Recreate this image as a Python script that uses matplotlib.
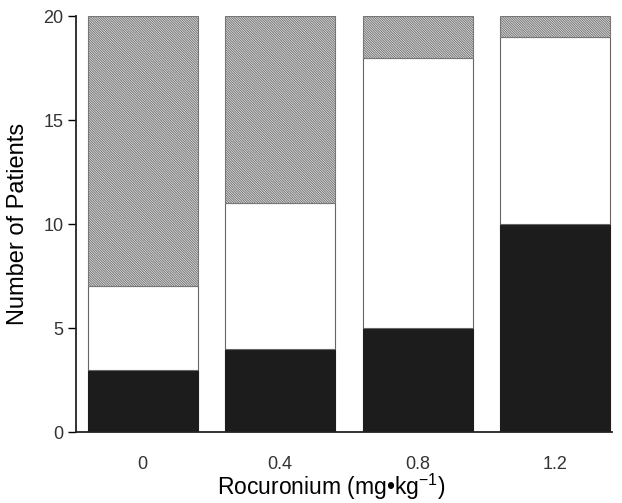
import matplotlib
matplotlib.use("Agg")
import matplotlib.pyplot as plt
import numpy as np

categories = ["0", "0.4", "0.8", "1.2"]
black_vals = [3, 4, 5, 10]
white_vals = [4, 7, 13, 9]
hatch_vals = [13, 9, 2, 1]
yticks = [0, 5, 10, 15, 20]

plt.rcParams['font.family'] = ['Liberation Sans', 'DejaVu Sans']
plt.rcParams['mathtext.fontset'] = 'custom'
plt.rcParams['mathtext.rm'] = 'Liberation Sans'
plt.rcParams['mathtext.it'] = 'Liberation Sans'
plt.rcParams['mathtext.default'] = 'regular'
plt.rcParams['hatch.linewidth'] = 0.7
plt.rcParams['hatch.color'] = '#666666'

fig = plt.figure(figsize=(6.22, 5.03), dpi=100)
ax = fig.add_axes([0.122, 0.141, 0.862, 0.827])

x = np.arange(len(categories))
b = np.array(black_vals)
w = np.array(white_vals)
h = np.array(hatch_vals)
width = 0.8
ax.bar(x, b, width, color='#1c1c1c', edgecolor='#1c1c1c', linewidth=0.8)
ax.bar(x, w, width, bottom=b, color='white', edgecolor='#666666', linewidth=0.8)
ax.bar(x, h, width, bottom=b + w, color='#e6e6e6', edgecolor='#777777',
       hatch='\\' * 14, linewidth=0.8)

ax.set_xlim(-0.487, 3.415)
ax.set_ylim(0, 20)
ax.set_yticks(yticks)
ax.set_xticks(x)
ax.set_xticklabels(categories, fontsize=13, color='#333333')
ax.tick_params(axis='x', length=0, pad=17)
ax.tick_params(axis='y', length=6, width=1, labelsize=13, labelcolor='#333333', pad=3)
for s in ['top', 'right']:
    ax.spines[s].set_visible(False)
for s in ['left', 'bottom']:
    ax.spines[s].set_linewidth(1.3)
    ax.spines[s].set_color('#222222')

ax.set_ylabel("Number of Patients", fontsize=17, labelpad=10)
fig.text(331 / 622, 1 - 487 / 503, "Rocuronium (mg\u2022kg$^{-1}$)",
         fontsize=16.5, ha='center', va='center')

fig.savefig("out.png", dpi=100)
